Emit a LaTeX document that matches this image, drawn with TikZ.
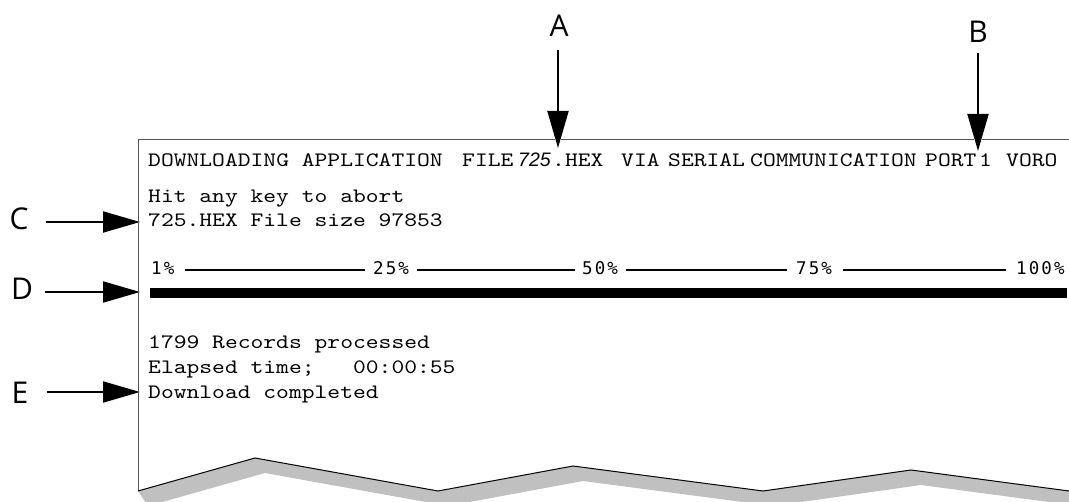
\documentclass[tikz,border=0pt]{standalone}
\usepackage{fontspec}
\usetikzlibrary{arrows.meta}
\newfontfamily\monofnt{lmmono10-regular.otf}[FakeStretch=1.19]
\newfontfamily\pctfnt{DejaVu Sans Mono}[LetterSpace=12]
\newfontfamily\lblfnt{Open Sans}
\newfontfamily\numfnt{Liberation Sans}
\definecolor{shadowgray}{HTML}{C0C0C0}
\definecolor{framecol}{HTML}{555555}
\begin{document}
\begin{tikzpicture}[x=1pt,y=-1pt,
  txt/.style={anchor=base west, inner sep=0pt, font=\monofnt\fontsize{20.5}{24}\selectfont},
  italnum/.style={anchor=base west, inner sep=0pt, font=\numfnt\itshape\fontsize{19.5}{22}\selectfont},
  pct/.style={anchor=base west, inner sep=0pt, font=\pctfnt\fontsize{17.5}{19}\selectfont},
  letter/.style={inner sep=0pt, font=\lblfnt\fontsize{30}{36}\selectfont},
  scl/.style={line width=1.5pt},
  callout/.style={line width=2pt, -{Triangle[length=37pt,width=21pt]}},
  callouthalo/.style={draw=white, line width=5pt, -{Triangle[length=40pt,width=27pt]}},
]
\useasboundingbox (0,0) rectangle (1069,502);
\fill[white] (0,0) rectangle (1069,502);

% torn-edge thickness
\begin{scope}
  \clip (0,0) rectangle (1069,502);
  \fill[shadowgray] (138,491) -- (255,458) -- (438,491) -- (573,466) -- (763,491) -- (911,470) -- (1069,491)
    -- (1079,506) -- (921,485) -- (773,506) -- (583,481) -- (448,506) -- (265,473) -- (148,506) -- cycle;
\end{scope}

% frame
\draw[framecol, line width=1pt] (138,491) -- (138,140) -- (1069,140);
\draw[black, line width=1pt] (138,491) -- (255,458) -- (438,491) -- (573,466) -- (763,491) -- (911,470) -- (1069,491);

% header line
\node[txt] (h1) at (148,167) {DOWNLOADING APPLICATION};
\node[txt] (h2) at (462,167) {FILE};
\node[italnum] (h3) at (518,167) {725};
\node[txt] (h4) at (552,167) {.HEX};
\node[txt] (h5) at (621,167) {VIA};
\node[txt] (h6) at (668,167) {SERIAL};
\node[txt] (h7) at (750,167) {COMMUNICATION};
\node[txt] (h8) at (925,167) {PORT};
\node[txt] (h9) at (979,167) {1};
\node[txt] (h10) at (1006,167) {VORO};

% body text
\node[txt] (t1) at (148,203) {Hit any key to abort};
\node[txt] (t2) at (148,227) {725.HEX File size 97853};
\node[txt] (t3) at (148,349) {1799 Records processed};
\node[txt] (t4) at (148,374) {Elapsed time;\ \ \ 00:00:55};
\node[txt] (t5) at (148,399) {Download completed};

% percentage scale
\node[pct] (p1) at (151,275) {1\%};
\node[pct] (p25) at (373,275) {25\%};
\node[pct] (p50) at (582,275) {50\%};
\node[pct] (p75) at (796,275) {75\%};
\node[pct] (p100) at (1016,275) {100\%};
\draw[scl] (185,270) -- (365,270);
\draw[scl] (417,270) -- (575,270);
\draw[scl] (626,270) -- (787,270);
\draw[scl] (843,270) -- (1006,270);

% progress bar
\fill[black] (150,288) rectangle (1067,298);

% callout letters
\node[letter] (A) at (559,26) {A};
\node[letter] (B) at (978,32) {B};
\node[letter] (C) at (19,219) {C};
\node[letter] (D) at (22,289) {D};
\node[letter] (E) at (20,393) {E};

\coordinate (tipA) at (558,148);
\coordinate (tipB) at (978,151);
\coordinate (tipC) at (140,222);
\coordinate (tipD) at (140,292);
\coordinate (tipE) at (140,392);

\foreach \s in {callouthalo,callout}{
  \draw[\s, shorten <=13pt] (A.south -| tipA) -- (tipA);
  \draw[\s, shorten <=10pt] (B.south -| tipB) -- (tipB);
  \draw[\s, shorten <=17pt] (tipC -| C.east) -- (tipC);
  \draw[\s, shorten <=12pt] (tipD -| D.east) -- (tipD);
  \draw[\s, shorten <=18pt] (tipE -| E.east) -- (tipE);
}
\end{tikzpicture}
\end{document}
